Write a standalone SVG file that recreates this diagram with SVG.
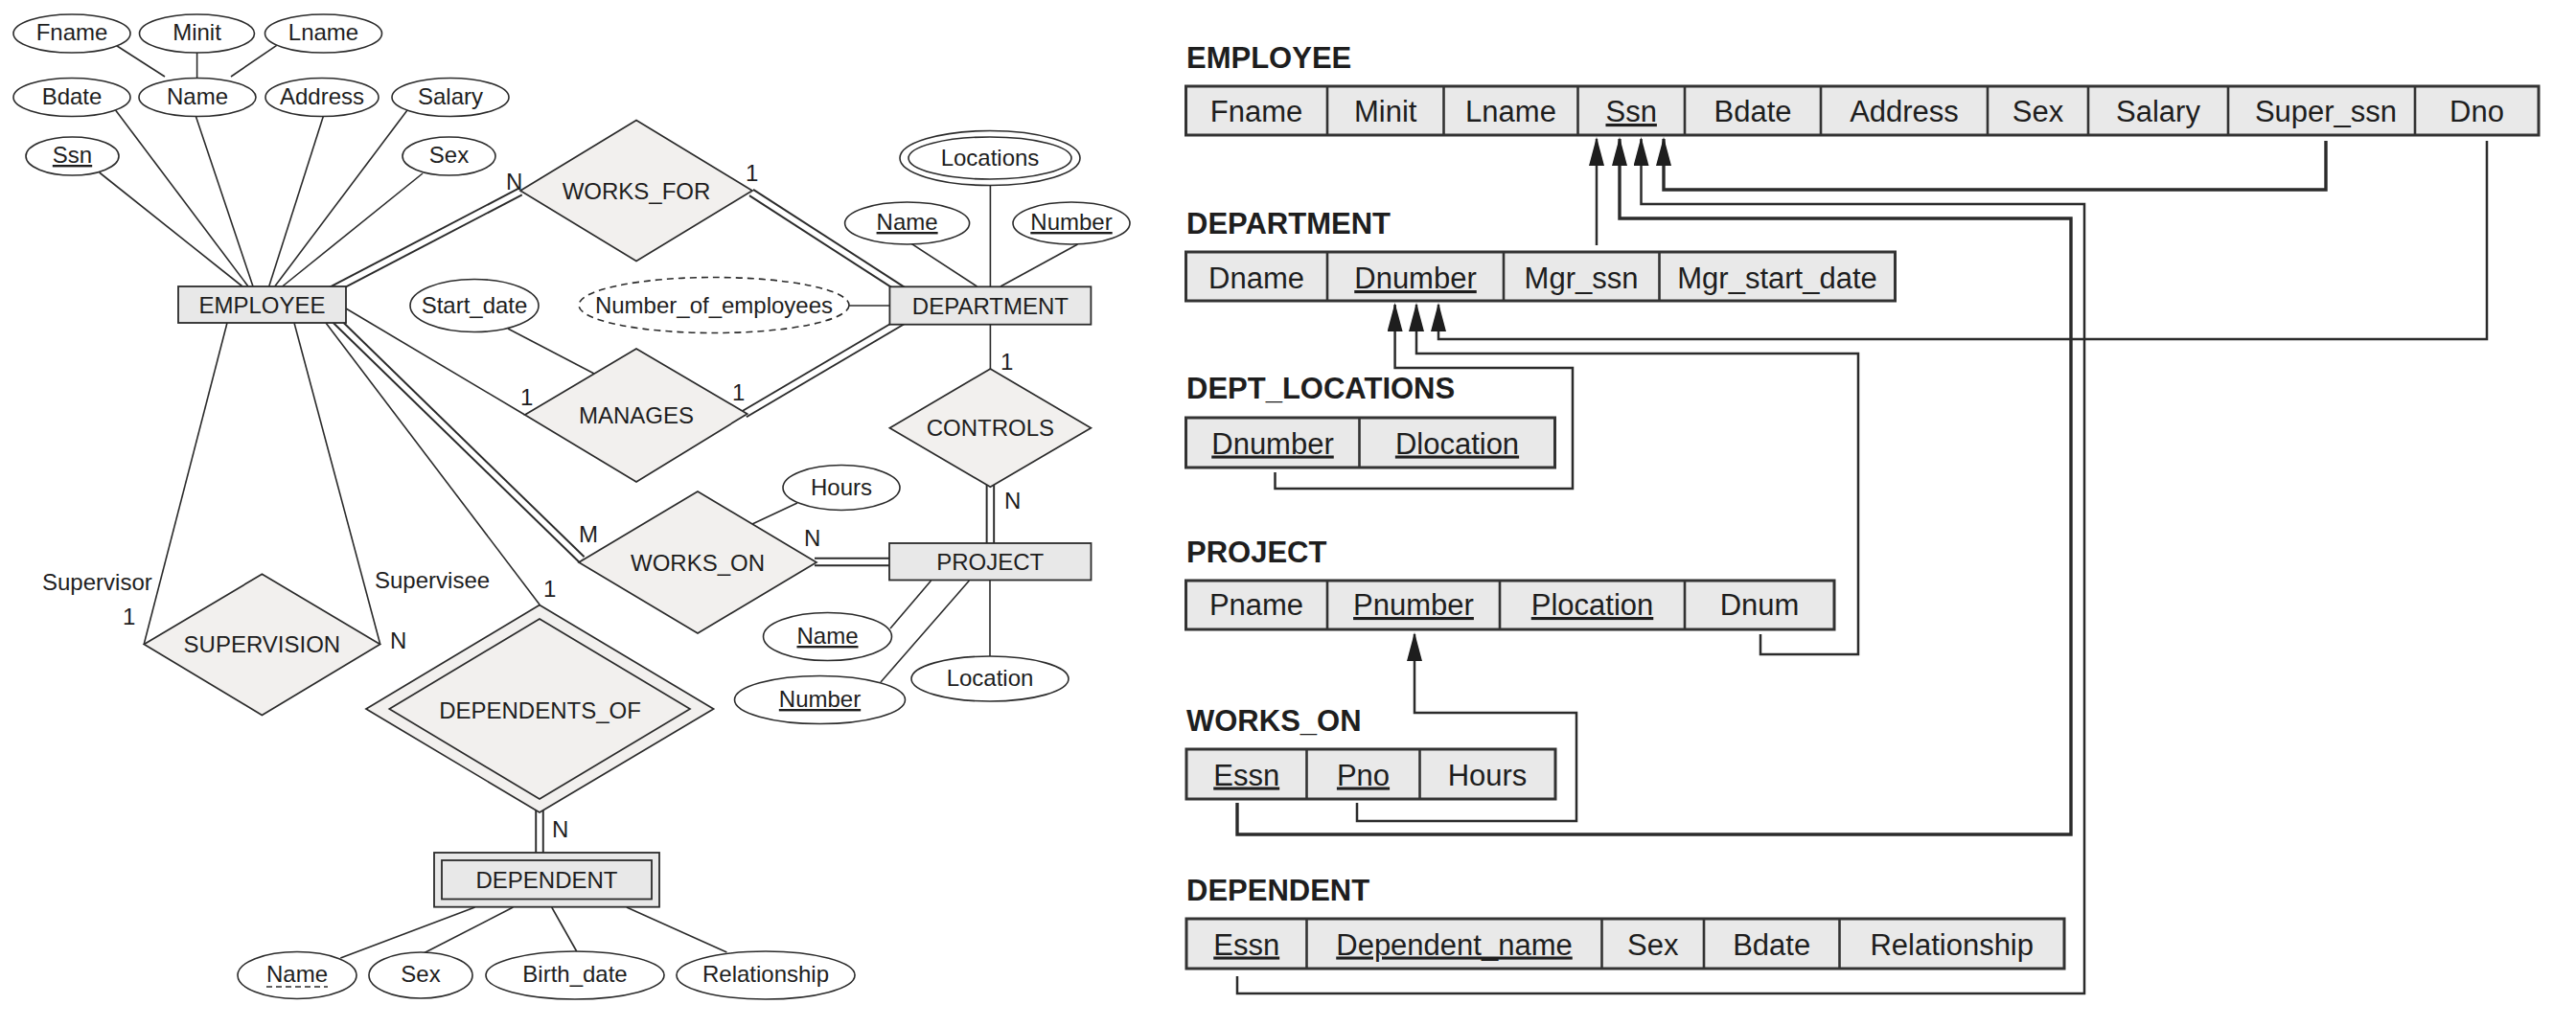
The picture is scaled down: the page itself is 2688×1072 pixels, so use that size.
<svg xmlns="http://www.w3.org/2000/svg" width="2688" height="1072" viewBox="0 0 2688 1072">
<style>
.bg{fill:#fff}
.ent{fill:#e8e8e8;stroke:#2b2b2b;stroke-width:1.8}
.rel{fill:#f2f0ee;stroke:#2b2b2b;stroke-width:1.7}
.att{fill:#fff;stroke:#2b2b2b;stroke-width:1.6}
.der{fill:#fff;stroke:#2b2b2b;stroke-width:1.6;stroke-dasharray:7 5}
.ln{fill:none;stroke:#2b2b2b;stroke-width:1.6}
.dbo{fill:none;stroke:#2b2b2b;stroke-width:9.5}
.dbi{fill:none;stroke:#fff;stroke-width:5.6}
.t{font-family:"Liberation Sans",Arial,Helvetica,sans-serif;font-size:24px;fill:#1e1e1e;text-anchor:middle}
.ts{font-family:"Liberation Sans",Arial,Helvetica,sans-serif;font-size:24px;fill:#1e1e1e}
.u{text-decoration:underline}
.cell{fill:#e9e9e9;stroke:#333;stroke-width:3}
.div{stroke:#333;stroke-width:2.6}
.ct{font-family:"Liberation Sans",Arial,Helvetica,sans-serif;font-size:31px;fill:#1e1e1e;text-anchor:middle}
.ttl{font-family:"Liberation Sans",Arial,Helvetica,sans-serif;font-size:31px;font-weight:bold;fill:#1e1e1e}
.fk{fill:none;stroke:#2b2b2b;stroke-width:2.5}
.fkb{fill:none;stroke:#2b2b2b;stroke-width:3.4}
.ul{stroke:#1e1e1e;stroke-width:2}
</style>
<defs>
<marker id="ah" viewBox="0 0 30 16" refX="28" refY="8" markerWidth="30" markerHeight="16" markerUnits="userSpaceOnUse" orient="auto">
<path d="M0,0 L30,8 L0,16 z" fill="#1e1e1e"/>
</marker>
</defs>
<rect class="bg" x="0" y="0" width="2688" height="1072"/>

<!-- ER connectors -->
<g id="er-connectors">
<path class="ln" d="M120.6,47 L172,80"/>
<path class="ln" d="M205.6,55 L205.6,81.5"/>
<path class="ln" d="M288.7,47.3 L241,80"/>
<path class="ln" d="M103.6,180 L253,299"/>
<path class="ln" d="M120.6,115 L259,299"/>
<path class="ln" d="M204.4,121.5 L264,299"/>
<path class="ln" d="M337.3,121.5 L280.7,299"/>
<path class="ln" d="M425,115 L286.7,299"/>
<path class="ln" d="M441,181 L294.6,299"/>
<path class="ln" d="M361,322 L547.7,433"/>
<path class="ln" d="M237,337 L150.3,672"/>
<path class="ln" d="M307,337 L396.6,672"/>
<path class="ln" d="M340,337 L563,631"/>
<path class="ln" d="M530,343 L620,390"/>
<path class="ln" d="M1033.4,194 L1033.4,299"/>
<path class="ln" d="M949,253 L1019.5,299"/>
<path class="ln" d="M1124.5,255 L1044,299"/>
<path class="ln" d="M886,319 L928,319"/>
<path class="ln" d="M1033.4,339 L1033.4,385"/>
<path class="ln" d="M832,525 L785,547"/>
<path class="ln" d="M971.6,606 L929,656"/>
<path class="ln" d="M1011.4,606 L919,712"/>
<path class="ln" d="M1033,606 L1033,685"/>
<path class="ln" d="M495.6,947 L355.3,1000"/>
<path class="ln" d="M535.4,947 L442,995"/>
<path class="ln" d="M575.7,947 L601.7,993"/>
<path class="ln" d="M653.8,947 L758.4,994"/>
<!-- double (total participation) lines -->
<path class="dbo" d="M344,304 L543,200"/>
<path class="dbi" d="M344,304 L543,200"/>
<path class="dbo" d="M784,201 L945,305"/>
<path class="dbi" d="M784,201 L945,305"/>
<path class="dbo" d="M777,432 L945,333"/>
<path class="dbi" d="M777,432 L945,333"/>
<path class="dbo" d="M344,328 L607,584"/>
<path class="dbi" d="M344,328 L607,584"/>
<path class="dbo" d="M850,586.5 L935,586.5"/>
<path class="dbi" d="M850,586.5 L935,586.5"/>
<path class="dbo" d="M1033.4,506 L1033.4,575"/>
<path class="dbi" d="M1033.4,506 L1033.4,575"/>
<path class="dbo" d="M563,845 L563,896"/>
<path class="dbi" d="M563,845 L563,896"/>
</g>

<!-- ER nodes -->
<g id="attr-fname"><ellipse class="att" cx="75" cy="35" rx="61" ry="20"/><text class="t" x="75" y="42">Fname</text></g>
<g id="attr-minit"><ellipse class="att" cx="205.5" cy="35" rx="60" ry="20"/><text class="t" x="205.5" y="42">Minit</text></g>
<g id="attr-lname"><ellipse class="att" cx="337.5" cy="35" rx="61" ry="20"/><text class="t" x="337.5" y="42">Lname</text></g>
<g id="attr-bdate"><ellipse class="att" cx="75" cy="101.5" rx="61" ry="20"/><text class="t" x="75" y="108.5">Bdate</text></g>
<g id="attr-name"><ellipse class="att" cx="206" cy="101.5" rx="61" ry="20"/><text class="t" x="206" y="108.5">Name</text></g>
<g id="attr-address"><ellipse class="att" cx="336" cy="101.5" rx="59" ry="20"/><text class="t" x="336" y="108.5">Address</text></g>
<g id="attr-salary"><ellipse class="att" cx="470" cy="101.5" rx="61" ry="20"/><text class="t" x="470" y="108.5">Salary</text></g>
<g id="attr-ssn"><ellipse class="att" cx="75.5" cy="163" rx="48.5" ry="20"/><text class="t u" x="75.5" y="170">Ssn</text></g>
<g id="attr-sex"><ellipse class="att" cx="468.5" cy="163" rx="48.5" ry="20"/><text class="t" x="468.5" y="170">Sex</text></g>

<g id="employee"><rect class="ent" x="186" y="299" width="175" height="38"/><text class="t" x="273.5" y="326.5">EMPLOYEE</text></g>

<g id="works-for"><polygon class="rel" points="543,199 664,125.5 785,199 664,272.5"/><text class="t" x="664" y="207.5">WORKS_FOR</text></g>

<g id="attr-locations"><ellipse class="att" cx="1033" cy="165" rx="94" ry="28.5"/><ellipse class="att" cx="1033" cy="165" rx="85" ry="22"/><text class="t" x="1033" y="173">Locations</text></g>
<g id="attr-dname"><ellipse class="att" cx="946.6" cy="233" rx="65" ry="22"/><text class="t u" x="946.6" y="240">Name</text></g>
<g id="attr-dnumber"><ellipse class="att" cx="1118" cy="233" rx="61" ry="22"/><text class="t u" x="1118" y="240">Number</text></g>

<g id="attr-number-of-employees"><ellipse class="der" cx="745" cy="318.5" rx="141" ry="29"/><text class="t" x="745" y="327">Number_of_employees</text></g>

<g id="department"><rect class="ent" x="928.4" y="299.3" width="210" height="39.4"/><text class="t" x="1033.4" y="327.5">DEPARTMENT</text></g>

<g id="attr-start-date"><ellipse class="att" cx="495" cy="319" rx="67" ry="27.5"/><text class="t" x="495" y="327">Start_date</text></g>

<g id="manages"><polygon class="rel" points="547.7,433 664,364 779.7,432 664,503"/><text class="t" x="664" y="441.5">MANAGES</text></g>

<g id="controls"><polygon class="rel" points="928.4,446.7 1033.4,385 1138.4,446.7 1033.4,508.3"/><text class="t" x="1033.4" y="455">CONTROLS</text></g>

<g id="attr-hours"><ellipse class="att" cx="878" cy="509" rx="61" ry="23.5"/><text class="t" x="878" y="517">Hours</text></g>

<g id="works-on"><polygon class="rel" points="604,587 728,513 852,587 728,661"/><text class="t" x="728" y="596">WORKS_ON</text></g>

<g id="project"><rect class="ent" x="928" y="567" width="210.5" height="38.5"/><text class="t" x="1033.2" y="595">PROJECT</text></g>

<g id="attr-pname"><ellipse class="att" cx="863.5" cy="664.5" rx="67" ry="25"/><text class="t u" x="863.5" y="672">Name</text></g>
<g id="attr-pnumber"><ellipse class="att" cx="855.5" cy="730.5" rx="89" ry="25"/><text class="t u" x="855.5" y="738">Number</text></g>
<g id="attr-plocation"><ellipse class="att" cx="1033" cy="708.5" rx="82" ry="23.5"/><text class="t" x="1033" y="716">Location</text></g>

<g id="supervision"><polygon class="rel" points="150.3,672.5 273.4,599.3 396.6,672.5 273.4,746.5"/><text class="t" x="273.4" y="681">SUPERVISION</text></g>

<g id="dependents-of"><polygon class="rel" points="382,740 563,631.5 744.6,740 563,848"/><polygon class="rel" points="406.3,740 563,646 720,740 563,834"/><text class="t" x="563.5" y="749.5">DEPENDENTS_OF</text></g>

<g id="dependent"><rect class="ent" x="453" y="890" width="235" height="56.7"/><rect class="ent" x="461" y="898" width="219" height="40.5"/><text class="t" x="570.5" y="927">DEPENDENT</text></g>

<g id="attr-dep-name"><ellipse class="att" cx="310" cy="1018" rx="62" ry="24.5"/><text class="t" x="310" y="1025">Name</text><line class="ln" x1="278" y1="1030" x2="342" y2="1030" style="stroke-dasharray:6 4"/></g>
<g id="attr-dep-sex"><ellipse class="att" cx="439" cy="1018" rx="54" ry="24"/><text class="t" x="439" y="1025">Sex</text></g>
<g id="attr-dep-birth-date"><ellipse class="att" cx="600" cy="1018" rx="93" ry="25"/><text class="t" x="600" y="1025">Birth_date</text></g>
<g id="attr-dep-relationship"><ellipse class="att" cx="799" cy="1018" rx="93" ry="25"/><text class="t" x="799" y="1025">Relationship</text></g>

<!-- cardinality / role labels -->
<g id="er-labels">
<text class="ts" x="528" y="198">N</text>
<text class="ts" x="778" y="189">1</text>
<text class="ts" x="543" y="423">1</text>
<text class="ts" x="764" y="418">1</text>
<text class="ts" x="1044" y="386">1</text>
<text class="ts" x="1048" y="531">N</text>
<text class="ts" x="604" y="566">M</text>
<text class="ts" x="839" y="570">N</text>
<text class="ts" x="44" y="616">Supervisor</text>
<text class="ts" x="128" y="652">1</text>
<text class="ts" x="391" y="614">Supervisee</text>
<text class="ts" x="407" y="677">N</text>
<text class="ts" x="567" y="623">1</text>
<text class="ts" x="576" y="874">N</text>
</g>

<!-- Relational schema: foreign key connectors -->
<g id="fk-connectors">
<path class="fk" d="M1666,256 V145" marker-end="url(#ah)"/>
<path class="fkb" d="M1291,838 V871 H2161 V228 H1690 V145" marker-end="url(#ah)"/>
<path class="fk" d="M1291,1019 V1037 H2175 V213 H1712.5 V145" marker-end="url(#ah)"/>
<path class="fkb" d="M2427,147 V198 H1736 V145" marker-end="url(#ah)"/>
<path class="fk" d="M2595,147 V354 H1501 V318" marker-end="url(#ah)"/>
<path class="fk" d="M1837,662 V683 H1939 V369 H1478 V318" marker-end="url(#ah)"/>
<path class="fk" d="M1330.5,493 V510 H1641 V384 H1455.6 V318" marker-end="url(#ah)"/>
<path class="fk" d="M1416,838 V857 H1645 V744 H1476 V662" marker-end="url(#ah)"/>
</g>

<!-- Relational schema tables -->
<g id="rel-employee">
<text class="ttl" x="1238" y="71">EMPLOYEE</text>
<rect class="cell" x="1237.5" y="90" width="1411.5" height="51"/>
<path class="div" d="M1385,90V141M1506.5,90V141M1646.5,90V141M1758,90V141M1900,90V141M2074,90V141M2179,90V141M2325,90V141M2520,90V141"/>
<text class="ct" x="1311" y="127">Fname</text>
<text class="ct" x="1445.7" y="127">Minit</text>
<text class="ct" x="1576.5" y="127">Lname</text>
<text class="ct u" x="1702.2" y="127">Ssn</text>
<text class="ct" x="1829" y="127">Bdate</text>
<text class="ct" x="1987" y="127">Address</text>
<text class="ct" x="2126.5" y="127">Sex</text>
<text class="ct" x="2252" y="127">Salary</text>
<text class="ct" x="2427" y="127">Super_ssn</text>
<text class="ct" x="2584.5" y="127">Dno</text>
</g>

<g id="rel-department">
<text class="ttl" x="1238" y="244">DEPARTMENT</text>
<rect class="cell" x="1237.5" y="263" width="740" height="51"/>
<path class="div" d="M1385,263V314M1569,263V314M1731.5,263V314"/>
<text class="ct" x="1311" y="301">Dname</text>
<text class="ct u" x="1477" y="301">Dnumber</text>
<text class="ct" x="1650" y="301">Mgr_ssn</text>
<text class="ct" x="1854.5" y="301">Mgr_start_date</text>
</g>

<g id="rel-dept-locations">
<text class="ttl" x="1238" y="416">DEPT_LOCATIONS</text>
<rect class="cell" x="1237.5" y="436" width="385" height="52"/>
<path class="div" d="M1418.5,436V488"/>
<text class="ct u" x="1328" y="473.5">Dnumber</text>
<text class="ct u" x="1520.5" y="473.5">Dlocation</text>
</g>

<g id="rel-project">
<text class="ttl" x="1238" y="587">PROJECT</text>
<rect class="cell" x="1237.5" y="606" width="676.5" height="51"/>
<path class="div" d="M1385,606V657M1565,606V657M1758,606V657"/>
<text class="ct" x="1311" y="642">Pname</text>
<text class="ct u" x="1475" y="642">Pnumber</text>
<text class="ct u" x="1661.5" y="642">Plocation</text>
<text class="ct" x="1836" y="642">Dnum</text>
</g>

<g id="rel-works-on">
<text class="ttl" x="1238" y="763">WORKS_ON</text>
<rect class="cell" x="1238" y="782" width="385" height="52"/>
<path class="div" d="M1363.5,782V834M1481.5,782V834"/>
<text class="ct u" x="1300.7" y="819.5">Essn</text>
<text class="ct u" x="1422.5" y="819.5">Pno</text>
<text class="ct" x="1552" y="819.5">Hours</text>
</g>

<g id="rel-dependent">
<text class="ttl" x="1238" y="940">DEPENDENT</text>
<rect class="cell" x="1238" y="959" width="916" height="52"/>
<path class="div" d="M1363.5,959V1011M1671.5,959V1011M1778,959V1011M1919.5,959V1011"/>
<text class="ct u" x="1300.7" y="996.5">Essn</text>
<text class="ct u" x="1517.5" y="996.5">Dependent_name</text>
<text class="ct" x="1724.7" y="996.5">Sex</text>
<text class="ct" x="1848.7" y="996.5">Bdate</text>
<text class="ct" x="2036.7" y="996.5">Relationship</text>
</g>
</svg>
